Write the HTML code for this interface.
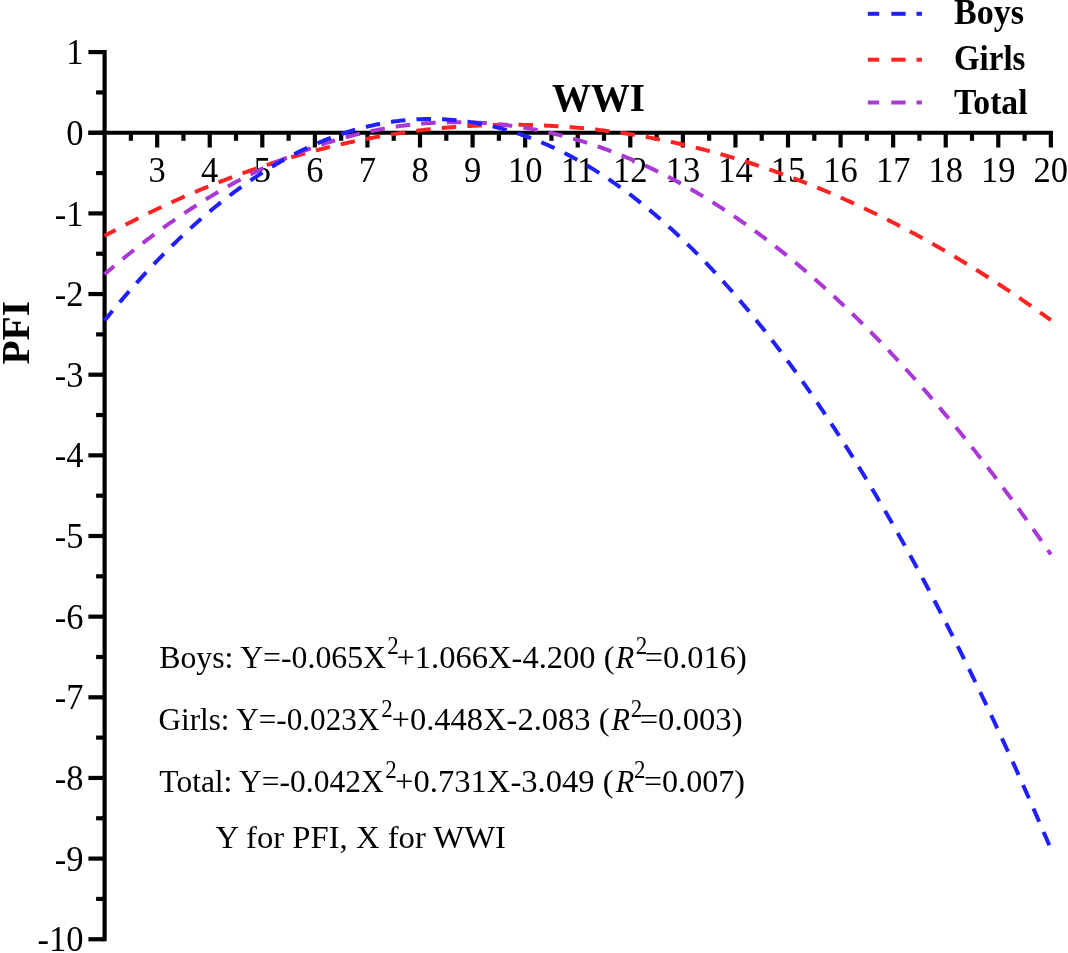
<!DOCTYPE html>
<html><head><meta charset="utf-8"><style>
html,body{margin:0;padding:0;background:#fff;overflow:hidden;}
svg{display:block;filter:blur(0.6px);}
text{font-family:"Liberation Serif",serif;fill:#000;}
.t{font-size:34.5px;}
.b{font-size:36px;font-weight:bold;}
.e{font-size:32.5px;}
</style></head><body>
<svg width="1068" height="953" viewBox="0 0 1068 953">
<line x1="104.6" y1="49.99999999999999" x2="104.6" y2="941.35" stroke="#000" stroke-width="4.2"/>
<line x1="88.4" y1="939.25" x2="104.6" y2="939.25" stroke="#000" stroke-width="4.2"/>
<line x1="96.1" y1="898.93" x2="104.6" y2="898.93" stroke="#000" stroke-width="4.2"/>
<line x1="88.4" y1="858.60" x2="104.6" y2="858.60" stroke="#000" stroke-width="4.2"/>
<line x1="96.1" y1="818.28" x2="104.6" y2="818.28" stroke="#000" stroke-width="4.2"/>
<line x1="88.4" y1="777.95" x2="104.6" y2="777.95" stroke="#000" stroke-width="4.2"/>
<line x1="96.1" y1="737.62" x2="104.6" y2="737.62" stroke="#000" stroke-width="4.2"/>
<line x1="88.4" y1="697.30" x2="104.6" y2="697.30" stroke="#000" stroke-width="4.2"/>
<line x1="96.1" y1="656.98" x2="104.6" y2="656.98" stroke="#000" stroke-width="4.2"/>
<line x1="88.4" y1="616.65" x2="104.6" y2="616.65" stroke="#000" stroke-width="4.2"/>
<line x1="96.1" y1="576.33" x2="104.6" y2="576.33" stroke="#000" stroke-width="4.2"/>
<line x1="88.4" y1="536.00" x2="104.6" y2="536.00" stroke="#000" stroke-width="4.2"/>
<line x1="96.1" y1="495.68" x2="104.6" y2="495.68" stroke="#000" stroke-width="4.2"/>
<line x1="88.4" y1="455.35" x2="104.6" y2="455.35" stroke="#000" stroke-width="4.2"/>
<line x1="96.1" y1="415.03" x2="104.6" y2="415.03" stroke="#000" stroke-width="4.2"/>
<line x1="88.4" y1="374.70" x2="104.6" y2="374.70" stroke="#000" stroke-width="4.2"/>
<line x1="96.1" y1="334.38" x2="104.6" y2="334.38" stroke="#000" stroke-width="4.2"/>
<line x1="88.4" y1="294.05" x2="104.6" y2="294.05" stroke="#000" stroke-width="4.2"/>
<line x1="96.1" y1="253.73" x2="104.6" y2="253.73" stroke="#000" stroke-width="4.2"/>
<line x1="88.4" y1="213.40" x2="104.6" y2="213.40" stroke="#000" stroke-width="4.2"/>
<line x1="96.1" y1="173.07" x2="104.6" y2="173.07" stroke="#000" stroke-width="4.2"/>
<line x1="88.4" y1="132.75" x2="104.6" y2="132.75" stroke="#000" stroke-width="4.2"/>
<line x1="96.1" y1="92.42" x2="104.6" y2="92.42" stroke="#000" stroke-width="4.2"/>
<line x1="88.4" y1="52.10" x2="104.6" y2="52.10" stroke="#000" stroke-width="4.2"/>
<line x1="88.4" y1="132.75" x2="1052.96" y2="132.75" stroke="#000" stroke-width="4.2"/>
<line x1="130.88" y1="132.75" x2="130.88" y2="140.8" stroke="#000" stroke-width="4.2"/>
<line x1="157.17" y1="132.75" x2="157.17" y2="147.5" stroke="#000" stroke-width="4.2"/>
<line x1="183.45" y1="132.75" x2="183.45" y2="140.8" stroke="#000" stroke-width="4.2"/>
<line x1="209.74" y1="132.75" x2="209.74" y2="147.5" stroke="#000" stroke-width="4.2"/>
<line x1="236.03" y1="132.75" x2="236.03" y2="140.8" stroke="#000" stroke-width="4.2"/>
<line x1="262.31" y1="132.75" x2="262.31" y2="147.5" stroke="#000" stroke-width="4.2"/>
<line x1="288.60" y1="132.75" x2="288.60" y2="140.8" stroke="#000" stroke-width="4.2"/>
<line x1="314.88" y1="132.75" x2="314.88" y2="147.5" stroke="#000" stroke-width="4.2"/>
<line x1="341.16" y1="132.75" x2="341.16" y2="140.8" stroke="#000" stroke-width="4.2"/>
<line x1="367.45" y1="132.75" x2="367.45" y2="147.5" stroke="#000" stroke-width="4.2"/>
<line x1="393.74" y1="132.75" x2="393.74" y2="140.8" stroke="#000" stroke-width="4.2"/>
<line x1="420.02" y1="132.75" x2="420.02" y2="147.5" stroke="#000" stroke-width="4.2"/>
<line x1="446.30" y1="132.75" x2="446.30" y2="140.8" stroke="#000" stroke-width="4.2"/>
<line x1="472.59" y1="132.75" x2="472.59" y2="147.5" stroke="#000" stroke-width="4.2"/>
<line x1="498.88" y1="132.75" x2="498.88" y2="140.8" stroke="#000" stroke-width="4.2"/>
<line x1="525.16" y1="132.75" x2="525.16" y2="147.5" stroke="#000" stroke-width="4.2"/>
<line x1="551.45" y1="132.75" x2="551.45" y2="140.8" stroke="#000" stroke-width="4.2"/>
<line x1="577.73" y1="132.75" x2="577.73" y2="147.5" stroke="#000" stroke-width="4.2"/>
<line x1="604.01" y1="132.75" x2="604.01" y2="140.8" stroke="#000" stroke-width="4.2"/>
<line x1="630.30" y1="132.75" x2="630.30" y2="147.5" stroke="#000" stroke-width="4.2"/>
<line x1="656.59" y1="132.75" x2="656.59" y2="140.8" stroke="#000" stroke-width="4.2"/>
<line x1="682.87" y1="132.75" x2="682.87" y2="147.5" stroke="#000" stroke-width="4.2"/>
<line x1="709.15" y1="132.75" x2="709.15" y2="140.8" stroke="#000" stroke-width="4.2"/>
<line x1="735.44" y1="132.75" x2="735.44" y2="147.5" stroke="#000" stroke-width="4.2"/>
<line x1="761.73" y1="132.75" x2="761.73" y2="140.8" stroke="#000" stroke-width="4.2"/>
<line x1="788.01" y1="132.75" x2="788.01" y2="147.5" stroke="#000" stroke-width="4.2"/>
<line x1="814.30" y1="132.75" x2="814.30" y2="140.8" stroke="#000" stroke-width="4.2"/>
<line x1="840.58" y1="132.75" x2="840.58" y2="147.5" stroke="#000" stroke-width="4.2"/>
<line x1="866.87" y1="132.75" x2="866.87" y2="140.8" stroke="#000" stroke-width="4.2"/>
<line x1="893.15" y1="132.75" x2="893.15" y2="147.5" stroke="#000" stroke-width="4.2"/>
<line x1="919.44" y1="132.75" x2="919.44" y2="140.8" stroke="#000" stroke-width="4.2"/>
<line x1="945.72" y1="132.75" x2="945.72" y2="147.5" stroke="#000" stroke-width="4.2"/>
<line x1="972.00" y1="132.75" x2="972.00" y2="140.8" stroke="#000" stroke-width="4.2"/>
<line x1="998.29" y1="132.75" x2="998.29" y2="147.5" stroke="#000" stroke-width="4.2"/>
<line x1="1024.58" y1="132.75" x2="1024.58" y2="140.8" stroke="#000" stroke-width="4.2"/>
<line x1="1050.86" y1="132.75" x2="1050.86" y2="147.5" stroke="#000" stroke-width="4.2"/>
<text transform="translate(83.4,64.20) scale(1,1.03)" text-anchor="end" class="t">1</text>
<text transform="translate(83.4,144.85) scale(1,1.03)" text-anchor="end" class="t">0</text>
<text transform="translate(83.4,225.50) scale(1,1.03)" text-anchor="end" class="t">-1</text>
<text transform="translate(83.4,306.15) scale(1,1.03)" text-anchor="end" class="t">-2</text>
<text transform="translate(83.4,386.80) scale(1,1.03)" text-anchor="end" class="t">-3</text>
<text transform="translate(83.4,467.45) scale(1,1.03)" text-anchor="end" class="t">-4</text>
<text transform="translate(83.4,548.10) scale(1,1.03)" text-anchor="end" class="t">-5</text>
<text transform="translate(83.4,628.75) scale(1,1.03)" text-anchor="end" class="t">-6</text>
<text transform="translate(83.4,709.40) scale(1,1.03)" text-anchor="end" class="t">-7</text>
<text transform="translate(83.4,790.05) scale(1,1.03)" text-anchor="end" class="t">-8</text>
<text transform="translate(83.4,870.70) scale(1,1.03)" text-anchor="end" class="t">-9</text>
<text transform="translate(83.4,951.35) scale(1,1.03)" text-anchor="end" class="t">-10</text>
<text transform="translate(157.17,182.2) scale(1,1.03)" text-anchor="middle" class="t">3</text>
<text transform="translate(209.74,182.2) scale(1,1.03)" text-anchor="middle" class="t">4</text>
<text transform="translate(262.31,182.2) scale(1,1.03)" text-anchor="middle" class="t">5</text>
<text transform="translate(314.88,182.2) scale(1,1.03)" text-anchor="middle" class="t">6</text>
<text transform="translate(367.45,182.2) scale(1,1.03)" text-anchor="middle" class="t">7</text>
<text transform="translate(420.02,182.2) scale(1,1.03)" text-anchor="middle" class="t">8</text>
<text transform="translate(472.59,182.2) scale(1,1.03)" text-anchor="middle" class="t">9</text>
<text transform="translate(525.16,182.2) scale(1,1.03)" text-anchor="middle" class="t">10</text>
<text transform="translate(577.73,182.2) scale(1,1.03)" text-anchor="middle" class="t">11</text>
<text transform="translate(630.30,182.2) scale(1,1.03)" text-anchor="middle" class="t">12</text>
<text transform="translate(682.87,182.2) scale(1,1.03)" text-anchor="middle" class="t">13</text>
<text transform="translate(735.44,182.2) scale(1,1.03)" text-anchor="middle" class="t">14</text>
<text transform="translate(788.01,182.2) scale(1,1.03)" text-anchor="middle" class="t">15</text>
<text transform="translate(840.58,182.2) scale(1,1.03)" text-anchor="middle" class="t">16</text>
<text transform="translate(893.15,182.2) scale(1,1.03)" text-anchor="middle" class="t">17</text>
<text transform="translate(945.72,182.2) scale(1,1.03)" text-anchor="middle" class="t">18</text>
<text transform="translate(998.29,182.2) scale(1,1.03)" text-anchor="middle" class="t">19</text>
<text transform="translate(1050.86,182.2) scale(1,1.03)" text-anchor="middle" class="t">20</text>
<polyline points="104.60,235.90 106.18,235.04 107.76,234.18 109.34,233.33 110.92,232.48 112.50,231.63 114.08,230.78 115.66,229.94 117.24,229.11 118.82,228.27 120.40,227.44 121.98,226.61 123.56,225.79 125.14,224.97 126.72,224.15 128.30,223.34 129.88,222.53 131.46,221.72 133.04,220.91 134.61,220.11 136.19,219.32 137.77,218.52 139.35,217.73 140.93,216.94 142.51,216.16 144.09,215.38 145.67,214.60 147.25,213.83 148.83,213.06 150.41,212.29 151.99,211.53 153.57,210.76 155.15,210.01 156.73,209.25 158.31,208.50 159.89,207.76 161.47,207.01 163.05,206.27 164.63,205.53 166.21,204.80 167.79,204.07 169.37,203.34 170.95,202.62 172.53,201.90 174.11,201.18 175.69,200.47 177.27,199.76 178.85,199.05 180.43,198.35 182.01,197.65 183.59,196.95 185.17,196.26 186.75,195.57 188.33,194.88 189.91,194.20 191.49,193.52 193.07,192.84 194.64,192.17 196.22,191.49 197.80,190.83 199.38,190.16 200.96,189.50 202.54,188.85 204.12,188.19 205.70,187.54 207.28,186.90 208.86,186.25 210.44,185.61 212.02,184.98 213.60,184.34 215.18,183.71 216.76,183.09 218.34,182.46 219.92,181.84 221.50,181.23 223.08,180.61 224.66,180.01 226.24,179.40 227.82,178.80 229.40,178.20 230.98,177.60 232.56,177.01 234.14,176.42 235.72,175.83 237.30,175.25 238.88,174.67 240.46,174.09 242.04,173.52 243.62,172.95 245.20,172.38 246.78,171.82 248.36,171.26 249.94,170.70 251.52,170.15 253.09,169.60 254.67,169.05 256.25,168.51 257.83,167.97 259.41,167.44 260.99,166.90 262.57,166.37 264.15,165.85 265.73,165.32 267.31,164.81 268.89,164.29 270.47,163.78 272.05,163.27 273.63,162.76 275.21,162.26 276.79,161.76 278.37,161.26 279.95,160.77 281.53,160.28 283.11,159.80 284.69,159.31 286.27,158.83 287.85,158.36 289.43,157.89 291.01,157.42 292.59,156.95 294.17,156.49 295.75,156.03 297.33,155.57 298.91,155.12 300.49,154.67 302.07,154.23 303.65,153.78 305.23,153.34 306.81,152.91 308.39,152.48 309.97,152.05 311.55,151.62 313.12,151.20 314.70,150.78 316.28,150.37 317.86,149.95 319.44,149.54 321.02,149.14 322.60,148.74 324.18,148.34 325.76,147.94 327.34,147.55 328.92,147.16 330.50,146.78 332.08,146.39 333.66,146.02 335.24,145.64 336.82,145.27 338.40,144.90 339.98,144.53 341.56,144.17 343.14,143.81 344.72,143.46 346.30,143.11 347.88,142.76 349.46,142.41 351.04,142.07 352.62,141.73 354.20,141.40 355.78,141.07 357.36,140.74 358.94,140.41 360.52,140.09 362.10,139.77 363.68,139.46 365.26,139.15 366.84,138.84 368.42,138.53 370.00,138.23 371.57,137.93 373.15,137.64 374.73,137.35 376.31,137.06 377.89,136.77 379.47,136.49 381.05,136.21 382.63,135.94 384.21,135.67 385.79,135.40 387.37,135.13 388.95,134.87 390.53,134.61 392.11,134.36 393.69,134.11 395.27,133.86 396.85,133.62 398.43,133.37 400.01,133.14 401.59,132.90 403.17,132.67 404.75,132.44 406.33,132.22 407.91,132.00 409.49,131.78 411.07,131.56 412.65,131.35 414.23,131.14 415.81,130.94 417.39,130.74 418.97,130.54 420.55,130.35 422.13,130.16 423.71,129.97 425.29,129.78 426.87,129.60 428.45,129.42 430.02,129.25 431.60,129.08 433.18,128.91 434.76,128.75 436.34,128.59 437.92,128.43 439.50,128.27 441.08,128.12 442.66,127.98 444.24,127.83 445.82,127.69 447.40,127.55 448.98,127.42 450.56,127.29 452.14,127.16 453.72,127.04 455.30,126.92 456.88,126.80 458.46,126.69 460.04,126.57 461.62,126.47 463.20,126.36 464.78,126.26 466.36,126.17 467.94,126.07 469.52,125.98 471.10,125.89 472.68,125.81 474.26,125.73 475.84,125.65 477.42,125.58 479.00,125.51 480.58,125.44 482.16,125.38 483.74,125.32 485.32,125.26 486.90,125.21 488.48,125.15 490.05,125.11 491.63,125.06 493.21,125.02 494.79,124.99 496.37,124.95 497.95,124.92 499.53,124.90 501.11,124.87 502.69,124.85 504.27,124.84 505.85,124.82 507.43,124.81 509.01,124.80 510.59,124.80 512.17,124.80 513.75,124.80 515.33,124.81 516.91,124.82 518.49,124.83 520.07,124.85 521.65,124.87 523.23,124.89 524.81,124.92 526.39,124.95 527.97,124.98 529.55,125.02 531.13,125.06 532.71,125.10 534.29,125.15 535.87,125.20 537.45,125.25 539.03,125.31 540.61,125.37 542.19,125.43 543.77,125.50 545.35,125.57 546.93,125.65 548.50,125.72 550.08,125.80 551.66,125.89 553.24,125.97 554.82,126.06 556.40,126.16 557.98,126.25 559.56,126.35 561.14,126.46 562.72,126.57 564.30,126.68 565.88,126.79 567.46,126.91 569.04,127.03 570.62,127.15 572.20,127.28 573.78,127.41 575.36,127.54 576.94,127.68 578.52,127.82 580.10,127.96 581.68,128.11 583.26,128.26 584.84,128.42 586.42,128.57 588.00,128.73 589.58,128.90 591.16,129.07 592.74,129.24 594.32,129.41 595.90,129.59 597.48,129.77 599.06,129.95 600.64,130.14 602.22,130.33 603.80,130.53 605.38,130.72 606.96,130.92 608.53,131.13 610.11,131.34 611.69,131.55 613.27,131.76 614.85,131.98 616.43,132.20 618.01,132.42 619.59,132.65 621.17,132.88 622.75,133.12 624.33,133.35 625.91,133.60 627.49,133.84 629.07,134.09 630.65,134.34 632.23,134.59 633.81,134.85 635.39,135.11 636.97,135.38 638.55,135.64 640.13,135.92 641.71,136.19 643.29,136.47 644.87,136.75 646.45,137.03 648.03,137.32 649.61,137.61 651.19,137.91 652.77,138.21 654.35,138.51 655.93,138.81 657.51,139.12 659.09,139.43 660.67,139.75 662.25,140.06 663.83,140.39 665.41,140.71 666.98,141.04 668.56,141.37 670.14,141.71 671.72,142.04 673.30,142.38 674.88,142.73 676.46,143.08 678.04,143.43 679.62,143.78 681.20,144.14 682.78,144.50 684.36,144.87 685.94,145.24 687.52,145.61 689.10,145.98 690.68,146.36 692.26,146.75 693.84,147.13 695.42,147.52 697.00,147.91 698.58,148.31 700.16,148.70 701.74,149.11 703.32,149.51 704.90,149.92 706.48,150.33 708.06,150.75 709.64,151.17 711.22,151.59 712.80,152.01 714.38,152.44 715.96,152.87 717.54,153.31 719.12,153.75 720.70,154.19 722.28,154.64 723.86,155.08 725.44,155.54 727.01,155.99 728.59,156.45 730.17,156.91 731.75,157.38 733.33,157.85 734.91,158.32 736.49,158.79 738.07,159.27 739.65,159.76 741.23,160.24 742.81,160.73 744.39,161.22 745.97,161.72 747.55,162.22 749.13,162.72 750.71,163.23 752.29,163.73 753.87,164.25 755.45,164.76 757.03,165.28 758.61,165.80 760.19,166.33 761.77,166.86 763.35,167.39 764.93,167.93 766.51,168.47 768.09,169.01 769.67,169.56 771.25,170.10 772.83,170.66 774.41,171.21 775.99,171.77 777.57,172.34 779.15,172.90 780.73,173.47 782.31,174.04 783.89,174.62 785.46,175.20 787.04,175.78 788.62,176.37 790.20,176.96 791.78,177.55 793.36,178.15 794.94,178.75 796.52,179.35 798.10,179.96 799.68,180.56 801.26,181.18 802.84,181.79 804.42,182.41 806.00,183.04 807.58,183.66 809.16,184.29 810.74,184.93 812.32,185.56 813.90,186.20 815.48,186.84 817.06,187.49 818.64,188.14 820.22,188.79 821.80,189.45 823.38,190.11 824.96,190.77 826.54,191.44 828.12,192.11 829.70,192.78 831.28,193.46 832.86,194.14 834.44,194.82 836.02,195.51 837.60,196.20 839.18,196.89 840.76,197.59 842.34,198.29 843.91,198.99 845.49,199.70 847.07,200.41 848.65,201.12 850.23,201.84 851.81,202.56 853.39,203.28 854.97,204.01 856.55,204.74 858.13,205.47 859.71,206.21 861.29,206.95 862.87,207.69 864.45,208.44 866.03,209.19 867.61,209.95 869.19,210.70 870.77,211.46 872.35,212.23 873.93,212.99 875.51,213.76 877.09,214.54 878.67,215.31 880.25,216.10 881.83,216.88 883.41,217.67 884.99,218.46 886.57,219.25 888.15,220.05 889.73,220.85 891.31,221.65 892.89,222.46 894.47,223.27 896.05,224.08 897.63,224.90 899.21,225.72 900.79,226.55 902.37,227.37 903.94,228.20 905.52,229.04 907.10,229.88 908.68,230.72 910.26,231.56 911.84,232.41 913.42,233.26 915.00,234.11 916.58,234.97 918.16,235.83 919.74,236.69 921.32,237.56 922.90,238.43 924.48,239.31 926.06,240.18 927.64,241.07 929.22,241.95 930.80,242.84 932.38,243.73 933.96,244.62 935.54,245.52 937.12,246.42 938.70,247.33 940.28,248.23 941.86,249.14 943.44,250.06 945.02,250.98 946.60,251.90 948.18,252.82 949.76,253.75 951.34,254.68 952.92,255.62 954.50,256.55 956.08,257.50 957.66,258.44 959.24,259.39 960.82,260.34 962.39,261.29 963.97,262.25 965.55,263.21 967.13,264.18 968.71,265.15 970.29,266.12 971.87,267.09 973.45,268.07 975.03,269.05 976.61,270.04 978.19,271.02 979.77,272.02 981.35,273.01 982.93,274.01 984.51,275.01 986.09,276.02 987.67,277.02 989.25,278.04 990.83,279.05 992.41,280.07 993.99,281.09 995.57,282.11 997.15,283.14 998.73,284.18 1000.31,285.21 1001.89,286.25 1003.47,287.29 1005.05,288.34 1006.63,289.38 1008.21,290.44 1009.79,291.49 1011.37,292.55 1012.95,293.61 1014.53,294.68 1016.11,295.74 1017.69,296.82 1019.27,297.89 1020.85,298.97 1022.42,300.05 1024.00,301.14 1025.58,302.23 1027.16,303.32 1028.74,304.41 1030.32,305.51 1031.90,306.61 1033.48,307.72 1035.06,308.83 1036.64,309.94 1038.22,311.06 1039.80,312.17 1041.38,313.30 1042.96,314.42 1044.54,315.55 1046.12,316.68 1047.70,317.82 1049.28,318.96 1050.86,320.10" fill="none" stroke="rgb(255,36,36)" stroke-width="4.0" stroke-dasharray="14.5 11.1" stroke-dashoffset="1.95"/>
<polyline points="104.60,274.29 106.18,272.93 107.76,271.57 109.34,270.22 110.92,268.88 112.50,267.54 114.08,266.21 115.66,264.89 117.24,263.57 118.82,262.26 120.40,260.95 121.98,259.65 123.56,258.36 125.14,257.07 126.72,255.79 128.30,254.51 129.88,253.24 131.46,251.98 133.04,250.72 134.61,249.47 136.19,248.23 137.77,246.99 139.35,245.75 140.93,244.53 142.51,243.31 144.09,242.09 145.67,240.88 147.25,239.68 148.83,238.48 150.41,237.29 151.99,236.11 153.57,234.93 155.15,233.76 156.73,232.59 158.31,231.44 159.89,230.28 161.47,229.13 163.05,227.99 164.63,226.86 166.21,225.73 167.79,224.61 169.37,223.49 170.95,222.38 172.53,221.27 174.11,220.18 175.69,219.08 177.27,218.00 178.85,216.92 180.43,215.84 182.01,214.78 183.59,213.72 185.17,212.66 186.75,211.61 188.33,210.57 189.91,209.53 191.49,208.50 193.07,207.47 194.64,206.45 196.22,205.44 197.80,204.44 199.38,203.44 200.96,202.44 202.54,201.45 204.12,200.47 205.70,199.49 207.28,198.52 208.86,197.56 210.44,196.60 212.02,195.65 213.60,194.71 215.18,193.77 216.76,192.83 218.34,191.91 219.92,190.99 221.50,190.07 223.08,189.16 224.66,188.26 226.24,187.36 227.82,186.47 229.40,185.59 230.98,184.71 232.56,183.84 234.14,182.97 235.72,182.11 237.30,181.26 238.88,180.41 240.46,179.57 242.04,178.74 243.62,177.91 245.20,177.08 246.78,176.27 248.36,175.46 249.94,174.65 251.52,173.85 253.09,173.06 254.67,172.27 256.25,171.49 257.83,170.72 259.41,169.95 260.99,169.19 262.57,168.43 264.15,167.68 265.73,166.94 267.31,166.20 268.89,165.47 270.47,164.75 272.05,164.03 273.63,163.31 275.21,162.61 276.79,161.91 278.37,161.21 279.95,160.52 281.53,159.84 283.11,159.16 284.69,158.49 286.27,157.83 287.85,157.17 289.43,156.52 291.01,155.88 292.59,155.24 294.17,154.60 295.75,153.98 297.33,153.35 298.91,152.74 300.49,152.13 302.07,151.53 303.65,150.93 305.23,150.34 306.81,149.76 308.39,149.18 309.97,148.60 311.55,148.04 313.12,147.48 314.70,146.92 316.28,146.38 317.86,145.84 319.44,145.30 321.02,144.77 322.60,144.25 324.18,143.73 325.76,143.22 327.34,142.71 328.92,142.22 330.50,141.72 332.08,141.24 333.66,140.76 335.24,140.28 336.82,139.81 338.40,139.35 339.98,138.89 341.56,138.44 343.14,138.00 344.72,137.56 346.30,137.13 347.88,136.71 349.46,136.29 351.04,135.87 352.62,135.47 354.20,135.07 355.78,134.67 357.36,134.28 358.94,133.90 360.52,133.52 362.10,133.15 363.68,132.79 365.26,132.43 366.84,132.08 368.42,131.73 370.00,131.39 371.57,131.06 373.15,130.73 374.73,130.41 376.31,130.10 377.89,129.79 379.47,129.48 381.05,129.19 382.63,128.90 384.21,128.61 385.79,128.33 387.37,128.06 388.95,127.79 390.53,127.53 392.11,127.28 393.69,127.03 395.27,126.79 396.85,126.55 398.43,126.32 400.01,126.10 401.59,125.88 403.17,125.67 404.75,125.47 406.33,125.27 407.91,125.07 409.49,124.89 411.07,124.71 412.65,124.53 414.23,124.36 415.81,124.20 417.39,124.04 418.97,123.89 420.55,123.75 422.13,123.61 423.71,123.48 425.29,123.36 426.87,123.24 428.45,123.12 430.02,123.01 431.60,122.91 433.18,122.82 434.76,122.73 436.34,122.65 437.92,122.57 439.50,122.50 441.08,122.44 442.66,122.38 444.24,122.32 445.82,122.28 447.40,122.24 448.98,122.20 450.56,122.18 452.14,122.16 453.72,122.14 455.30,122.13 456.88,122.13 458.46,122.13 460.04,122.14 461.62,122.15 463.20,122.17 464.78,122.20 466.36,122.24 467.94,122.27 469.52,122.32 471.10,122.37 472.68,122.43 474.26,122.49 475.84,122.56 477.42,122.64 479.00,122.72 480.58,122.81 482.16,122.91 483.74,123.01 485.32,123.11 486.90,123.23 488.48,123.35 490.05,123.47 491.63,123.60 493.21,123.74 494.79,123.88 496.37,124.03 497.95,124.19 499.53,124.35 501.11,124.52 502.69,124.69 504.27,124.87 505.85,125.06 507.43,125.25 509.01,125.45 510.59,125.65 512.17,125.87 513.75,126.08 515.33,126.31 516.91,126.53 518.49,126.77 520.07,127.01 521.65,127.26 523.23,127.51 524.81,127.77 526.39,128.04 527.97,128.31 529.55,128.59 531.13,128.87 532.71,129.16 534.29,129.46 535.87,129.76 537.45,130.07 539.03,130.38 540.61,130.71 542.19,131.03 543.77,131.37 545.35,131.71 546.93,132.05 548.50,132.40 550.08,132.76 551.66,133.12 553.24,133.49 554.82,133.87 556.40,134.25 557.98,134.64 559.56,135.03 561.14,135.43 562.72,135.84 564.30,136.25 565.88,136.67 567.46,137.10 569.04,137.53 570.62,137.97 572.20,138.41 573.78,138.86 575.36,139.31 576.94,139.78 578.52,140.24 580.10,140.72 581.68,141.20 583.26,141.68 584.84,142.18 586.42,142.67 588.00,143.18 589.58,143.69 591.16,144.21 592.74,144.73 594.32,145.26 595.90,145.79 597.48,146.33 599.06,146.88 600.64,147.43 602.22,147.99 603.80,148.56 605.38,149.13 606.96,149.71 608.53,150.29 610.11,150.88 611.69,151.48 613.27,152.08 614.85,152.69 616.43,153.30 618.01,153.92 619.59,154.55 621.17,155.18 622.75,155.82 624.33,156.47 625.91,157.12 627.49,157.78 629.07,158.44 630.65,159.11 632.23,159.79 633.81,160.47 635.39,161.16 636.97,161.85 638.55,162.55 640.13,163.26 641.71,163.97 643.29,164.69 644.87,165.41 646.45,166.14 648.03,166.88 649.61,167.62 651.19,168.37 652.77,169.13 654.35,169.89 655.93,170.66 657.51,171.43 659.09,172.21 660.67,173.00 662.25,173.79 663.83,174.59 665.41,175.39 666.98,176.20 668.56,177.02 670.14,177.84 671.72,178.67 673.30,179.50 674.88,180.34 676.46,181.19 678.04,182.04 679.62,182.90 681.20,183.77 682.78,184.64 684.36,185.52 685.94,186.40 687.52,187.29 689.10,188.19 690.68,189.09 692.26,190.00 693.84,190.91 695.42,191.83 697.00,192.76 698.58,193.69 700.16,194.63 701.74,195.58 703.32,196.53 704.90,197.48 706.48,198.45 708.06,199.42 709.64,200.39 711.22,201.37 712.80,202.36 714.38,203.35 715.96,204.35 717.54,205.36 719.12,206.37 720.70,207.39 722.28,208.42 723.86,209.45 725.44,210.48 727.01,211.53 728.59,212.57 730.17,213.63 731.75,214.69 733.33,215.76 734.91,216.83 736.49,217.91 738.07,219.00 739.65,220.09 741.23,221.19 742.81,222.29 744.39,223.40 745.97,224.52 747.55,225.64 749.13,226.77 750.71,227.90 752.29,229.04 753.87,230.19 755.45,231.34 757.03,232.50 758.61,233.67 760.19,234.84 761.77,236.01 763.35,237.20 764.93,238.39 766.51,239.58 768.09,240.79 769.67,241.99 771.25,243.21 772.83,244.43 774.41,245.65 775.99,246.89 777.57,248.12 779.15,249.37 780.73,250.62 782.31,251.88 783.89,253.14 785.46,254.41 787.04,255.68 788.62,256.97 790.20,258.25 791.78,259.55 793.36,260.85 794.94,262.15 796.52,263.46 798.10,264.78 799.68,266.11 801.26,267.44 802.84,268.77 804.42,270.12 806.00,271.46 807.58,272.82 809.16,274.18 810.74,275.55 812.32,276.92 813.90,278.30 815.48,279.69 817.06,281.08 818.64,282.47 820.22,283.88 821.80,285.29 823.38,286.70 824.96,288.13 826.54,289.55 828.12,290.99 829.70,292.43 831.28,293.88 832.86,295.33 834.44,296.79 836.02,298.25 837.60,299.72 839.18,301.20 840.76,302.68 842.34,304.17 843.91,305.67 845.49,307.17 847.07,308.68 848.65,310.19 850.23,311.71 851.81,313.24 853.39,314.77 854.97,316.31 856.55,317.85 858.13,319.40 859.71,320.96 861.29,322.52 862.87,324.09 864.45,325.67 866.03,327.25 867.61,328.83 869.19,330.43 870.77,332.03 872.35,333.63 873.93,335.24 875.51,336.86 877.09,338.49 878.67,340.12 880.25,341.75 881.83,343.40 883.41,345.04 884.99,346.70 886.57,348.36 888.15,350.03 889.73,351.70 891.31,353.38 892.89,355.06 894.47,356.75 896.05,358.45 897.63,360.15 899.21,361.86 900.79,363.58 902.37,365.30 903.94,367.03 905.52,368.76 907.10,370.50 908.68,372.25 910.26,374.00 911.84,375.76 913.42,377.53 915.00,379.30 916.58,381.07 918.16,382.86 919.74,384.65 921.32,386.44 922.90,388.24 924.48,390.05 926.06,391.86 927.64,393.68 929.22,395.51 930.80,397.34 932.38,399.18 933.96,401.02 935.54,402.87 937.12,404.73 938.70,406.59 940.28,408.46 941.86,410.34 943.44,412.22 945.02,414.10 946.60,416.00 948.18,417.90 949.76,419.80 951.34,421.71 952.92,423.63 954.50,425.55 956.08,427.48 957.66,429.42 959.24,431.36 960.82,433.31 962.39,435.26 963.97,437.22 965.55,439.19 967.13,441.16 968.71,443.14 970.29,445.13 971.87,447.12 973.45,449.12 975.03,451.12 976.61,453.13 978.19,455.14 979.77,457.17 981.35,459.19 982.93,461.23 984.51,463.27 986.09,465.31 987.67,467.37 989.25,469.42 990.83,471.49 992.41,473.56 993.99,475.64 995.57,477.72 997.15,479.81 998.73,481.90 1000.31,484.00 1001.89,486.11 1003.47,488.22 1005.05,490.34 1006.63,492.47 1008.21,494.60 1009.79,496.74 1011.37,498.88 1012.95,501.03 1014.53,503.19 1016.11,505.35 1017.69,507.52 1019.27,509.69 1020.85,511.87 1022.42,514.06 1024.00,516.25 1025.58,518.45 1027.16,520.66 1028.74,522.87 1030.32,525.09 1031.90,527.31 1033.48,529.54 1035.06,531.78 1036.64,534.02 1038.22,536.27 1039.80,538.52 1041.38,540.78 1042.96,543.05 1044.54,545.32 1046.12,547.60 1047.70,549.88 1049.28,552.17 1050.86,554.47" fill="none" stroke="rgb(170,56,212)" stroke-width="4.0" stroke-dasharray="14.5 11.1" stroke-dashoffset="1.95"/>
<polyline points="104.60,320.50 106.18,318.55 107.76,316.62 109.34,314.69 110.92,312.77 112.50,310.85 114.08,308.95 115.66,307.06 117.24,305.18 118.82,303.31 120.40,301.44 121.98,299.59 123.56,297.74 125.14,295.91 126.72,294.08 128.30,292.27 129.88,290.46 131.46,288.66 133.04,286.88 134.61,285.10 136.19,283.33 137.77,281.57 139.35,279.82 140.93,278.08 142.51,276.35 144.09,274.63 145.67,272.92 147.25,271.21 148.83,269.52 150.41,267.84 151.99,266.16 153.57,264.50 155.15,262.84 156.73,261.20 158.31,259.56 159.89,257.93 161.47,256.32 163.05,254.71 164.63,253.11 166.21,251.52 167.79,249.94 169.37,248.37 170.95,246.81 172.53,245.26 174.11,243.72 175.69,242.19 177.27,240.66 178.85,239.15 180.43,237.65 182.01,236.15 183.59,234.67 185.17,233.19 186.75,231.73 188.33,230.27 189.91,228.82 191.49,227.39 193.07,225.96 194.64,224.54 196.22,223.13 197.80,221.73 199.38,220.34 200.96,218.96 202.54,217.59 204.12,216.23 205.70,214.88 207.28,213.53 208.86,212.20 210.44,210.88 212.02,209.56 213.60,208.26 215.18,206.96 216.76,205.68 218.34,204.40 219.92,203.13 221.50,201.88 223.08,200.63 224.66,199.39 226.24,198.16 227.82,196.94 229.40,195.73 230.98,194.53 232.56,193.34 234.14,192.16 235.72,190.98 237.30,189.82 238.88,188.67 240.46,187.52 242.04,186.39 243.62,185.26 245.20,184.15 246.78,183.04 248.36,181.95 249.94,180.86 251.52,179.78 253.09,178.71 254.67,177.66 256.25,176.61 257.83,175.57 259.41,174.54 260.99,173.52 262.57,172.50 264.15,171.50 265.73,170.51 267.31,169.53 268.89,168.55 270.47,167.59 272.05,166.63 273.63,165.69 275.21,164.75 276.79,163.83 278.37,162.91 279.95,162.00 281.53,161.11 283.11,160.22 284.69,159.34 286.27,158.47 287.85,157.61 289.43,156.76 291.01,155.92 292.59,155.09 294.17,154.27 295.75,153.45 297.33,152.65 298.91,151.86 300.49,151.07 302.07,150.30 303.65,149.53 305.23,148.78 306.81,148.03 308.39,147.29 309.97,146.57 311.55,145.85 313.12,145.14 314.70,144.44 316.28,143.75 317.86,143.07 319.44,142.40 321.02,141.74 322.60,141.09 324.18,140.45 325.76,139.81 327.34,139.19 328.92,138.58 330.50,137.97 332.08,137.38 333.66,136.79 335.24,136.22 336.82,135.65 338.40,135.09 339.98,134.55 341.56,134.01 343.14,133.48 344.72,132.96 346.30,132.45 347.88,131.95 349.46,131.46 351.04,130.98 352.62,130.51 354.20,130.04 355.78,129.59 357.36,129.15 358.94,128.71 360.52,128.29 362.10,127.88 363.68,127.47 365.26,127.07 366.84,126.69 368.42,126.31 370.00,125.94 371.57,125.59 373.15,125.24 374.73,124.90 376.31,124.57 377.89,124.25 379.47,123.94 381.05,123.64 382.63,123.34 384.21,123.06 385.79,122.79 387.37,122.52 388.95,122.27 390.53,122.03 392.11,121.79 393.69,121.57 395.27,121.35 396.85,121.14 398.43,120.95 400.01,120.76 401.59,120.58 403.17,120.41 404.75,120.25 406.33,120.10 407.91,119.96 409.49,119.83 411.07,119.71 412.65,119.60 414.23,119.50 415.81,119.40 417.39,119.32 418.97,119.24 420.55,119.18 422.13,119.13 423.71,119.08 425.29,119.04 426.87,119.02 428.45,119.00 430.02,118.99 431.60,118.99 433.18,119.00 434.76,119.03 436.34,119.06 437.92,119.09 439.50,119.14 441.08,119.20 442.66,119.27 444.24,119.35 445.82,119.43 447.40,119.53 448.98,119.64 450.56,119.75 452.14,119.88 453.72,120.01 455.30,120.15 456.88,120.31 458.46,120.47 460.04,120.64 461.62,120.82 463.20,121.02 464.78,121.22 466.36,121.43 467.94,121.65 469.52,121.87 471.10,122.11 472.68,122.36 474.26,122.62 475.84,122.88 477.42,123.16 479.00,123.45 480.58,123.74 482.16,124.05 483.74,124.36 485.32,124.68 486.90,125.02 488.48,125.36 490.05,125.71 491.63,126.07 493.21,126.44 494.79,126.82 496.37,127.21 497.95,127.61 499.53,128.02 501.11,128.44 502.69,128.87 504.27,129.31 505.85,129.75 507.43,130.21 509.01,130.67 510.59,131.15 512.17,131.63 513.75,132.13 515.33,132.63 516.91,133.14 518.49,133.67 520.07,134.20 521.65,134.74 523.23,135.29 524.81,135.85 526.39,136.42 527.97,137.00 529.55,137.59 531.13,138.19 532.71,138.79 534.29,139.41 535.87,140.04 537.45,140.67 539.03,141.32 540.61,141.97 542.19,142.64 543.77,143.31 545.35,144.00 546.93,144.69 548.50,145.39 550.08,146.10 551.66,146.82 553.24,147.55 554.82,148.29 556.40,149.04 557.98,149.80 559.56,150.57 561.14,151.35 562.72,152.14 564.30,152.93 565.88,153.74 567.46,154.56 569.04,155.38 570.62,156.22 572.20,157.06 573.78,157.91 575.36,158.78 576.94,159.65 578.52,160.53 580.10,161.42 581.68,162.33 583.26,163.24 584.84,164.16 586.42,165.09 588.00,166.02 589.58,166.97 591.16,167.93 592.74,168.90 594.32,169.88 595.90,170.86 597.48,171.86 599.06,172.86 600.64,173.88 602.22,174.90 603.80,175.93 605.38,176.98 606.96,178.03 608.53,179.09 610.11,180.16 611.69,181.25 613.27,182.34 614.85,183.44 616.43,184.54 618.01,185.66 619.59,186.79 621.17,187.93 622.75,189.08 624.33,190.23 625.91,191.40 627.49,192.58 629.07,193.76 630.65,194.96 632.23,196.16 633.81,197.37 635.39,198.60 636.97,199.83 638.55,201.07 640.13,202.32 641.71,203.58 643.29,204.85 644.87,206.13 646.45,207.42 648.03,208.72 649.61,210.03 651.19,211.35 652.77,212.67 654.35,214.01 655.93,215.36 657.51,216.71 659.09,218.08 660.67,219.45 662.25,220.84 663.83,222.23 665.41,223.63 666.98,225.04 668.56,226.47 670.14,227.90 671.72,229.34 673.30,230.79 674.88,232.25 676.46,233.72 678.04,235.20 679.62,236.68 681.20,238.18 682.78,239.69 684.36,241.21 685.94,242.73 687.52,244.27 689.10,245.81 690.68,247.37 692.26,248.93 693.84,250.50 695.42,252.09 697.00,253.68 698.58,255.28 700.16,256.89 701.74,258.51 703.32,260.14 704.90,261.78 706.48,263.43 708.06,265.09 709.64,266.76 711.22,268.43 712.80,270.12 714.38,271.82 715.96,273.52 717.54,275.24 719.12,276.96 720.70,278.70 722.28,280.44 723.86,282.19 725.44,283.96 727.01,285.73 728.59,287.51 730.17,289.30 731.75,291.10 733.33,292.91 734.91,294.73 736.49,296.56 738.07,298.40 739.65,300.25 741.23,302.10 742.81,303.97 744.39,305.85 745.97,307.73 747.55,309.63 749.13,311.53 750.71,313.45 752.29,315.37 753.87,317.30 755.45,319.25 757.03,321.20 758.61,323.16 760.19,325.13 761.77,327.11 763.35,329.10 764.93,331.10 766.51,333.11 768.09,335.13 769.67,337.16 771.25,339.19 772.83,341.24 774.41,343.30 775.99,345.36 777.57,347.44 779.15,349.52 780.73,351.61 782.31,353.72 783.89,355.83 785.46,357.95 787.04,360.09 788.62,362.23 790.20,364.38 791.78,366.54 793.36,368.71 794.94,370.89 796.52,373.08 798.10,375.27 799.68,377.48 801.26,379.70 802.84,381.92 804.42,384.16 806.00,386.41 807.58,388.66 809.16,390.93 810.74,393.20 812.32,395.48 813.90,397.78 815.48,400.08 817.06,402.39 818.64,404.71 820.22,407.04 821.80,409.38 823.38,411.73 824.96,414.09 826.54,416.46 828.12,418.84 829.70,421.23 831.28,423.62 832.86,426.03 834.44,428.44 836.02,430.87 837.60,433.30 839.18,435.75 840.76,438.20 842.34,440.67 843.91,443.14 845.49,445.62 847.07,448.11 848.65,450.61 850.23,453.12 851.81,455.64 853.39,458.17 854.97,460.71 856.55,463.26 858.13,465.82 859.71,468.39 861.29,470.96 862.87,473.55 864.45,476.15 866.03,478.75 867.61,481.37 869.19,483.99 870.77,486.62 872.35,489.27 873.93,491.92 875.51,494.58 877.09,497.25 878.67,499.93 880.25,502.62 881.83,505.32 883.41,508.03 884.99,510.75 886.57,513.48 888.15,516.22 889.73,518.97 891.31,521.72 892.89,524.49 894.47,527.26 896.05,530.05 897.63,532.84 899.21,535.65 900.79,538.46 902.37,541.29 903.94,544.12 905.52,546.96 907.10,549.81 908.68,552.67 910.26,555.54 911.84,558.42 913.42,561.31 915.00,564.21 916.58,567.12 918.16,570.04 919.74,572.96 921.32,575.90 922.90,578.85 924.48,581.80 926.06,584.77 927.64,587.74 929.22,590.73 930.80,593.72 932.38,596.72 933.96,599.73 935.54,602.76 937.12,605.79 938.70,608.83 940.28,611.88 941.86,614.94 943.44,618.01 945.02,621.09 946.60,624.17 948.18,627.27 949.76,630.38 951.34,633.49 952.92,636.62 954.50,639.76 956.08,642.90 957.66,646.06 959.24,649.22 960.82,652.39 962.39,655.58 963.97,658.77 965.55,661.97 967.13,665.18 968.71,668.40 970.29,671.63 971.87,674.87 973.45,678.12 975.03,681.38 976.61,684.65 978.19,687.92 979.77,691.21 981.35,694.51 982.93,697.81 984.51,701.13 986.09,704.45 987.67,707.79 989.25,711.13 990.83,714.48 992.41,717.85 993.99,721.22 995.57,724.60 997.15,727.99 998.73,731.39 1000.31,734.80 1001.89,738.22 1003.47,741.65 1005.05,745.09 1006.63,748.54 1008.21,751.99 1009.79,755.46 1011.37,758.94 1012.95,762.42 1014.53,765.92 1016.11,769.42 1017.69,772.94 1019.27,776.46 1020.85,779.99 1022.42,783.54 1024.00,787.09 1025.58,790.65 1027.16,794.22 1028.74,797.80 1030.32,801.39 1031.90,804.99 1033.48,808.60 1035.06,812.22 1036.64,815.85 1038.22,819.48 1039.80,823.13 1041.38,826.79 1042.96,830.45 1044.54,834.13 1046.12,837.81 1047.70,841.51 1049.28,845.21 1050.86,848.92" fill="none" stroke="rgb(32,32,255)" stroke-width="4.0" stroke-dasharray="14.5 11.1" stroke-dashoffset="1.95"/>
<rect x="867.8" y="11.8" width="11.400000000000091" height="4" fill="rgb(32,32,255)"/>
<rect x="891.3" y="11.8" width="14.300000000000068" height="4" fill="rgb(32,32,255)"/>
<rect x="916.5" y="11.8" width="5.399999999999977" height="4" fill="rgb(32,32,255)"/>
<text transform="translate(954,24) scale(0.946,1)" class="b">Boys</text>
<rect x="867.8" y="57.7" width="11.400000000000091" height="4" fill="rgb(255,36,36)"/>
<rect x="891.3" y="57.7" width="14.300000000000068" height="4" fill="rgb(255,36,36)"/>
<rect x="916.5" y="57.7" width="5.399999999999977" height="4" fill="rgb(255,36,36)"/>
<text transform="translate(954,69.5) scale(0.915,1)" class="b">Girls</text>
<rect x="867.8" y="100.5" width="11.400000000000091" height="4" fill="rgb(170,56,212)"/>
<rect x="891.3" y="100.5" width="14.300000000000068" height="4" fill="rgb(170,56,212)"/>
<rect x="916.5" y="100.5" width="5.399999999999977" height="4" fill="rgb(170,56,212)"/>
<text transform="translate(954,113.5) scale(0.935,1)" class="b">Total</text>
<text transform="translate(552,110.8) scale(0.985,1)" class="b" style="font-size:39.5px">WWI</text>
<text transform="translate(28.5,332.8) rotate(-90) scale(1,1)" text-anchor="middle" class="b" style="font-size:39.5px">PFI</text>
<text transform="translate(159.22,668.2) scale(0.9783,1)" class="e" style="font-size:32.5px;">Boys: Y=-0.065X</text>
<text transform="translate(387.2,654.4) scale(0.9,1)" class="e" style="font-size:25.5px;">2</text>
<text transform="translate(396.5,668.2) scale(1.0014,1)" class="e" style="font-size:32.5px;">+1.066X-4.200 (</text>
<text transform="translate(615.7,668.2) scale(0.93,1)" class="e" style="font-size:32.5px;font-style:italic">R</text>
<text transform="translate(635.8,654.4) scale(0.9,1)" class="e" style="font-size:25.5px;">2</text>
<text transform="translate(644.7,668.2) scale(0.998,1)" class="e" style="font-size:32.5px;">=0.016)</text>
<text transform="translate(158.44,730.3) scale(0.9603,1)" class="e" style="font-size:32.5px;">Girls: Y=-0.023X</text>
<text transform="translate(381.2,716.5) scale(0.9,1)" class="e" style="font-size:25.5px;">2</text>
<text transform="translate(391.6,730.3) scale(1.0009,1)" class="e" style="font-size:32.5px;">+0.448X-2.083 (</text>
<text transform="translate(611.5,730.3) scale(0.93,1)" class="e" style="font-size:32.5px;font-style:italic">R</text>
<text transform="translate(630.7,716.5) scale(0.9,1)" class="e" style="font-size:25.5px;">2</text>
<text transform="translate(639.69,730.3) scale(1.0061,1)" class="e" style="font-size:32.5px;">=0.003)</text>
<text transform="translate(159.33,791.8) scale(0.97,1)" class="e" style="font-size:32.5px;">Total: Y=-0.042X</text>
<text transform="translate(385.2,778.0) scale(0.9,1)" class="e" style="font-size:25.5px;">2</text>
<text transform="translate(395.09,791.8) scale(1.0042,1)" class="e" style="font-size:32.5px;">+0.731X-3.049 (</text>
<text transform="translate(615.7,791.8) scale(0.93,1)" class="e" style="font-size:32.5px;font-style:italic">R</text>
<text transform="translate(634.1,778.0) scale(0.9,1)" class="e" style="font-size:25.5px;">2</text>
<text transform="translate(643.92,791.8) scale(0.9889,1)" class="e" style="font-size:32.5px;">=0.007)</text>
<text transform="translate(215.49,847.6) scale(1.0063,1)" class="e" style="font-size:32.5px;">Y for PFI, X for WWI</text>
</svg>
</body></html>
